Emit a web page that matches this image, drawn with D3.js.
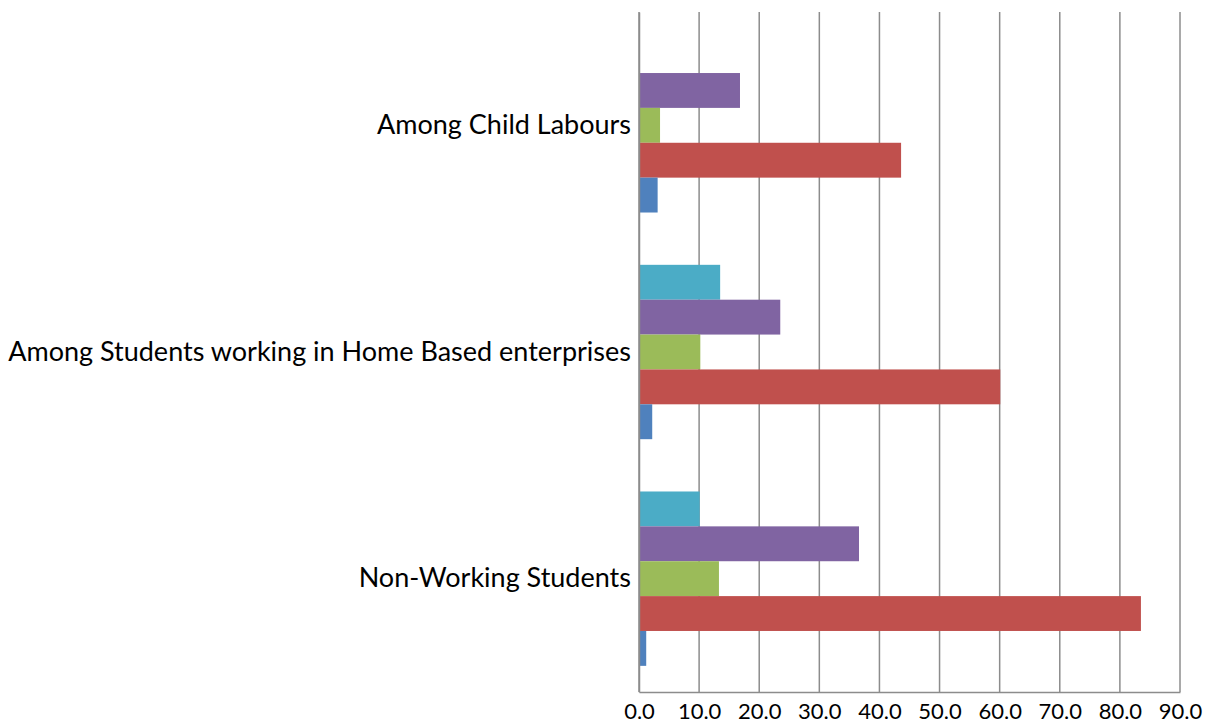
<!DOCTYPE html>
<html>
<head>
<meta charset="utf-8">
<script src="https://cdn.jsdelivr.net/npm/d3@7"></script>
<style>
  body { margin: 0; background: #fff; }
  text { font-family: Lato, "Open Sans", sans-serif; fill: #000; }
</style>
</head>
<body>
<script>
// categories, top to bottom
let categories = ['Among Child Labours', 'Among Students working in Home Based enterprises', 'Non-Working Students'];

// series, drawn top to bottom inside each group
let seriesNames = ['s5', 's4', 's3', 's2', 's1'];
let seriesColors = ['#4BACC6', '#8064A2', '#9BBB59', '#C0504D', '#4F81BD'];

// values per series, same order as categories
let s1 = [3.1, 2.2, 1.2];
let s2 = [43.6, 60.1, 83.5];
let s3 = [3.5, 10.2, 13.3];
let s4 = [16.8, 23.5, 36.6];
let s5 = [0, 13.5, 10.1];

let tickValues = [0, 10, 20, 30, 40, 50, 60, 70, 80, 90];

let seriesValues = { s1: s1, s2: s2, s3: s3, s4: s4, s5: s5 };

let width = 1205, height = 724;
let margin = { top: 12, right: 25, bottom: 32, left: 639 };

let svg = d3.select('body')
  .append('svg')
  .attr('width', width)
  .attr('height', height);

let xScale = d3.scaleLinear()
  .domain([0, 90])
  .range([margin.left, width - margin.right]);

let yScale = d3.scaleBand()
  .domain(categories)
  .range([margin.top, height - margin.bottom]);

let ySub = d3.scaleBand()
  .domain(seriesNames)
  .range([0, yScale.bandwidth()])
  .paddingInner(0)
  .paddingOuter(0.75);

// gridlines
svg.append('g')
  .selectAll('line')
  .data(tickValues)
  .enter()
  .append('line')
  .attr('x1', d => xScale(d))
  .attr('x2', d => xScale(d))
  .attr('y1', margin.top)
  .attr('y2', height - margin.bottom)
  .attr('stroke', '#8c8c8c')
  .attr('stroke-width', 1.5);

// bars
let groups = svg.append('g')
  .selectAll('g')
  .data(categories)
  .enter()
  .append('g')
  .attr('transform', d => `translate(0,${yScale(d)})`);

groups.selectAll('rect')
  .data((c, i) => seriesNames.map((s, j) => ({ s: s, color: seriesColors[j], v: seriesValues[s][i] })))
  .enter()
  .append('rect')
  .attr('x', xScale(0))
  .attr('y', d => ySub(d.s))
  .attr('width', d => xScale(d.v) - xScale(0))
  .attr('height', ySub.bandwidth())
  .attr('fill', d => d.color);

// x axis
let xAxis = svg.append('g')
  .attr('transform', `translate(0,${height - margin.bottom})`)
  .call(d3.axisBottom(xScale).tickValues(tickValues).tickSize(0).tickPadding(11).tickFormat(d3.format('.1f')));
xAxis.select('.domain').attr('stroke', '#8c8c8c').attr('stroke-width', 1.5);
xAxis.selectAll('text').style('font-size', '22px').style('font-family', 'Lato, sans-serif').attr('fill', '#000');

// y axis
let yAxis = svg.append('g')
  .attr('transform', `translate(${margin.left},0)`)
  .call(d3.axisLeft(yScale).tickSize(0).tickPadding(8));
yAxis.select('.domain').attr('stroke', '#8c8c8c').attr('stroke-width', 1.5);
yAxis.selectAll('text').style('font-size', '27px').style('font-family', 'Lato, sans-serif').attr('fill', '#000');
</script>
</body>
</html>
